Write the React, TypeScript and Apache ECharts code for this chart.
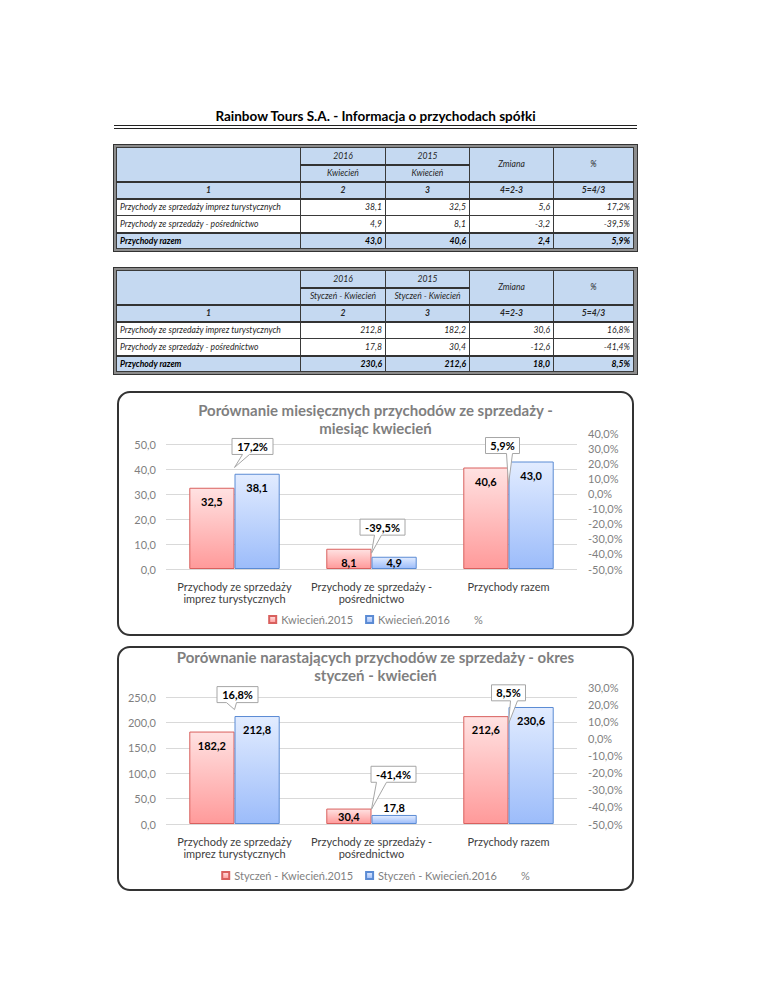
import React, { useEffect, useRef } from 'react';
import * as echarts from 'echarts';

// ---------- data ----------
const categories = [
  'Przychody ze sprzedaży\nimprez turystycznych',
  'Przychody ze sprzedaży -\npośrednictwo',
  'Przychody razem',
];
const rowLabels = [
  'Przychody ze sprzedaży imprez turystycznych',
  'Przychody ze sprzedaży - pośrednictwo',
  'Przychody razem',
];
const yearHeaders = ['2016', '2015'];
const colNumbers = ['1', '2', '3', '4=2-3', '5=4/3'];

const apr2016 = [38.1, 4.9, 43.0];
const apr2015 = [32.5, 8.1, 40.6];
const aprChange = [5.6, -3.2, 2.4];
const aprPct = [17.2, -39.5, 5.9];

const ytd2016 = [212.8, 17.8, 230.6];
const ytd2015 = [182.2, 30.4, 212.6];
const ytdChange = [30.6, -12.6, 18.0];
const ytdPct = [16.8, -41.4, 8.5];

// ---------- layout / style config ----------
const FONT = 'Lato';
const callouts1 = [
  { dx: 18, dy: -21, base: [-10, -3] },
  { dx: 11, dy: -26, base: [-8, -1] },
  { dx: -6, dy: -39, base: [4, 10] },
];
const callouts2 = [
  { dx: 3, dy: -15, base: [-11, -1] },
  { dx: 22, dy: -35, base: [-17, -7] },
  { dx: 0, dy: -31, base: [2, 9] },
];
const labelPos1 = { a: ['insideTop', 'insideTop', 'insideTop'], b: ['insideTop', 'inside', 'insideTop'] };
const labelPos2 = { a: ['insideTop', 'inside', 'insideTop'], b: ['insideTop', 'top', 'insideTop'] };

const fmt1 = (v: number) => v.toFixed(1).replace('.', ',');
const fmtPct = (v: number) => v.toFixed(1).replace('.', ',') + '%';

let measureCtx: CanvasRenderingContext2D | null = null;
function textWidth(t: string, font: string) {
  if (!measureCtx) measureCtx = document.createElement('canvas').getContext('2d');
  measureCtx!.font = font;
  return measureCtx!.measureText(t).width;
}

const redFill = () =>
  new echarts.graphic.LinearGradient(0, 0, 0, 1, [
    { offset: 0, color: '#ffe2e2' },
    { offset: 1, color: '#ff9a9a' },
  ]);
const blueFill = () =>
  new echarts.graphic.LinearGradient(0, 0, 0, 1, [
    { offset: 0, color: '#e2ecff' },
    { offset: 1, color: '#9cbcfa' },
  ]);

function makeOption(cfg: any) {
  const barLabel = {
    show: true,
    formatter: (p: any) => fmt1(p.value),
    fontFamily: FONT,
    fontWeight: 'bold',
    fontSize: 11,
    color: '#000',
    distance: 8,
  };
  const barData = (vals: number[], pos: string[]) =>
    vals.map((v, i) => ({
      value: v,
      label: { position: pos[i], distance: pos[i] === 'top' ? 2 : 8 },
    }));
  return {
    animation: false,
    textStyle: { fontFamily: FONT },
    title: {
      text: cfg.title,
      left: 'center',
      top: cfg.titleTop,
      padding: cfg.titlePadding,
      textStyle: { fontFamily: FONT, fontSize: 15, fontWeight: 'bold', color: '#7f7f7f', lineHeight: 18 },
    },
    legend: {
      left: 'center',
      top: cfg.legendTop,
      padding: [0, 0, 0, 10],
      itemWidth: 7,
      itemHeight: 7,
      itemGap: 12,
      textStyle: { fontFamily: FONT, fontSize: 11, color: '#7f7f7f' },
      data: [
        { name: cfg.nameA, icon: 'rect' },
        { name: cfg.nameB, icon: 'rect' },
        { name: '%', icon: 'rect', itemStyle: { color: 'rgba(0,0,0,0)', borderWidth: 0, opacity: 0 } },
      ],
    },
    grid: { left: 49, top: cfg.gridTop, width: 411, height: cfg.gridHeight },
    xAxis: {
      type: 'category',
      data: categories,
      axisLine: { show: false },
      axisTick: { show: false },
      axisLabel: { interval: 0, color: '#404040', fontSize: 11, lineHeight: 12, margin: 11, fontFamily: FONT },
    },
    yAxis: [
      {
        type: 'value',
        min: 0,
        max: cfg.leftMax,
        interval: cfg.leftInterval,
        axisLine: { show: false },
        axisTick: { show: false },
        axisLabel: {
          color: '#7f7f7f',
          fontSize: 11,
          margin: 10,
          fontFamily: FONT,
          showMaxLabel: false,
          formatter: (v: number) => (Math.abs(v / cfg.leftInterval - Math.round(v / cfg.leftInterval)) < 1e-6 ? fmt1(v) : ''),
        },
        splitLine: { show: true, showMaxLine: false, lineStyle: { color: '#d9d9d9', width: 1 } },
      },
      {
        type: 'value',
        position: 'right',
        min: cfg.rightMin,
        max: cfg.rightMax,
        interval: 10,
        axisLine: { show: false },
        axisTick: { show: false },
        splitLine: { show: false },
        axisLabel: { color: '#7f7f7f', fontSize: 11, margin: 11, fontFamily: FONT, formatter: (v: number) => fmtPct(v) },
      },
    ],
    series: [
      {
        name: cfg.nameA,
        type: 'bar',
        data: barData(cfg.a, cfg.labelPos.a),
        barGap: '0%',
        barCategoryGap: '34%',
        itemStyle: { color: redFill(), borderColor: '#d9605e', borderWidth: 1 },
        label: barLabel,
      },
      {
        name: cfg.nameB,
        type: 'bar',
        data: barData(cfg.b, cfg.labelPos.b),
        barGap: '0%',
        barCategoryGap: '34%',
        itemStyle: { color: blueFill(), borderColor: '#5b8bd4', borderWidth: 1 },
        label: barLabel,
      },
      {
        name: '%',
        type: 'custom',
        yAxisIndex: 1,
        z: 10,
        itemStyle: { color: '#ffffff' },
        data: cfg.pct.map((v: number, i: number) => [i, v]),
        encode: { x: 0, y: 1 },
        renderItem: (params: any, api: any) => {
          const i = api.value(0);
          const v = api.value(1);
          const tip = api.coord([i, v]);
          const c = cfg.callouts[params.dataIndex];
          const text = fmtPct(v);
          const font = `bold 11px ${FONT}`;
          const w = Math.round(textWidth(text, font)) + 10;
          const h = 16;
          const cx = tip[0] + c.dx;
          const cy = tip[1] + c.dy;
          const l = cx - w / 2, r = cx + w / 2, t = cy - h / 2, b = cy + h / 2;
          const b1 = cx + c.base[0], b2 = cx + c.base[1];
          return {
            type: 'group',
            children: [
              {
                type: 'polygon',
                shape: { points: [[l, t], [r, t], [r, b], [b2, b], tip, [b1, b], [l, b]] },
                style: { fill: '#ffffff', stroke: '#a6a6a6', lineWidth: 1 },
              },
              {
                type: 'text',
                style: {
                  text,
                  x: cx,
                  y: cy,
                  align: 'center',
                  verticalAlign: 'middle',
                  font,
                  fill: '#000',
                },
              },
            ],
          };
        },
      },
    ],
  };
}

const option1 = makeOption({
  title: 'Porównanie miesięcznych przychodów ze sprzedaży -\nmiesiąc kwiecień',
  titleTop: 10,
  titlePadding: [0, 0, 0, 0],
  legendTop: 223,
  gridTop: 42,
  gridHeight: 136,
  leftMax: 54.4,
  leftInterval: 10,
  rightMin: -50,
  rightMax: 40,
  nameA: 'Kwiecień.2015',
  nameB: 'Kwiecień.2016',
  a: apr2015,
  b: apr2016,
  pct: aprPct,
  callouts: callouts1,
  labelPos: labelPos1,
});

const option2 = makeOption({
  title: 'Porównanie narastających przychodów ze sprzedaży - okres\nstyczeń - kwiecień',
  titleTop: 2,
  titlePadding: [0, 0, 0, 20],
  legendTop: 224,
  gridTop: 41,
  gridHeight: 137,
  leftMax: 270,
  leftInterval: 50,
  rightMin: -50,
  rightMax: 30,
  nameA: 'Styczeń - Kwiecień.2015',
  nameB: 'Styczeń - Kwiecień.2016',
  a: ytd2015,
  b: ytd2016,
  pct: ytdPct,
  callouts: callouts2,
  labelPos: labelPos2,
});

function ChartBox({ top, option }: { top: number; option: any }) {
  const ref = useRef<HTMLDivElement>(null);
  useEffect(() => {
    const chart = echarts.init(ref.current!, null, { renderer: 'svg' });
    chart.setOption(option);
    return () => chart.dispose();
  }, [option]);
  return (
    <>
      <div
        style={{
          position: 'absolute',
          left: 117,
          top,
          width: 517,
          height: 245,
          boxSizing: 'border-box',
          border: '2px solid #333',
          borderRadius: 13,
          background: '#fff',
        }}
      />
      <div ref={ref} style={{ position: 'absolute', left: 117, top, width: 517, height: 245 }} />
    </>
  );
}

const HDR_BG = '#c5d9f1';
const cell = (extra: any = {}) => ({
  border: '1px solid #3a3a3a',
  padding: '0 3px',
  fontStyle: 'italic',
  fontSize: 8.6,
  color: '#262626',
  whiteSpace: 'nowrap' as const,
  overflow: 'hidden',
  lineHeight: '10px',
  ...extra,
});

function DataTable({ top, period, v2016, v2015, change, pct }: any) {
  const colW = [184, 85, 84, 84, 80];
  return (
    <div
      style={{
        position: 'absolute',
        left: 113,
        top,
        width: 525,
        boxSizing: 'border-box',
        border: '1px solid #333',
        background: '#8c8c8c',
        padding: 2,
        fontFamily: FONT,
      }}
    >
      <table style={{ width: 517, borderCollapse: 'collapse', tableLayout: 'fixed', background: '#fff' }}>
        <colgroup>
          {colW.map((w, i) => (
            <col key={i} style={{ width: w }} />
          ))}
        </colgroup>
        <tbody>
          <tr style={{ height: 17 }}>
            <td rowSpan={2} style={cell({ background: HDR_BG, borderBottom: '2px solid #333' })} />
            <td style={cell({ background: HDR_BG, textAlign: 'center', borderBottom: '2px solid #333' })}>{yearHeaders[0]}</td>
            <td style={cell({ background: HDR_BG, textAlign: 'center', borderBottom: '2px solid #333' })}>{yearHeaders[1]}</td>
            <td rowSpan={2} style={cell({ background: HDR_BG, textAlign: 'center', borderBottom: '2px solid #333' })}>Zmiana</td>
            <td rowSpan={2} style={cell({ background: HDR_BG, textAlign: 'center', borderBottom: '2px solid #333' })}>%</td>
          </tr>
          <tr style={{ height: 17 }}>
            <td style={cell({ background: HDR_BG, textAlign: 'center', borderBottom: '2px solid #333' })}>{period}</td>
            <td style={cell({ background: HDR_BG, textAlign: 'center', borderBottom: '2px solid #333' })}>{period}</td>
          </tr>
          <tr style={{ height: 17 }}>
            {colNumbers.map((n, i) => (
              <td key={i} style={cell({ background: HDR_BG, textAlign: 'center', fontWeight: 700, borderBottom: '2px solid #333' })}>
                {n}
              </td>
            ))}
          </tr>
          {rowLabels.map((lab, r) => {
            const total = r === rowLabels.length - 1;
            const bg = total ? HDR_BG : '#fff';
            const extra = total ? { fontWeight: 700, borderTop: '2px solid #333', color: '#000' } : {};
            return (
              <tr key={r} style={{ height: total ? 16 : 17 }}>
                <td style={cell({ background: bg, textAlign: 'left', ...extra })}>{lab}</td>
                <td style={cell({ background: bg, textAlign: 'right', ...extra })}>{fmt1(v2016[r])}</td>
                <td style={cell({ background: bg, textAlign: 'right', ...extra })}>{fmt1(v2015[r])}</td>
                <td style={cell({ background: bg, textAlign: 'right', ...extra })}>{fmt1(change[r])}</td>
                <td style={cell({ background: bg, textAlign: 'right', ...extra })}>{fmtPct(pct[r])}</td>
              </tr>
            );
          })}
        </tbody>
      </table>
    </div>
  );
}

export default function App() {
  return (
    <div
      style={{
        position: 'absolute',
        left: 0,
        top: 0,
        width: 768,
        height: 994,
        background: '#fff',
        fontFamily: FONT,
        overflow: 'hidden',
      }}
    >
      <div
        style={{
          position: 'absolute',
          left: 113,
          top: 108,
          width: 525,
          textAlign: 'center',
          fontWeight: 700,
          fontSize: 13.5,
          lineHeight: '16px',
          color: '#000',
        }}
      >
        Rainbow Tours S.A. - Informacja o przychodach spółki
      </div>
      <div style={{ position: 'absolute', left: 114, top: 125, width: 523, height: 0, borderTop: '4px double #222' }} />
      <DataTable top={144} period="Kwiecień" v2016={apr2016} v2015={apr2015} change={aprChange} pct={aprPct} />
      <DataTable top={267} period="Styczeń - Kwiecień" v2016={ytd2016} v2015={ytd2015} change={ytdChange} pct={ytdPct} />
      <ChartBox top={391} option={option1} />
      <ChartBox top={646} option={option2} />
    </div>
  );
}
